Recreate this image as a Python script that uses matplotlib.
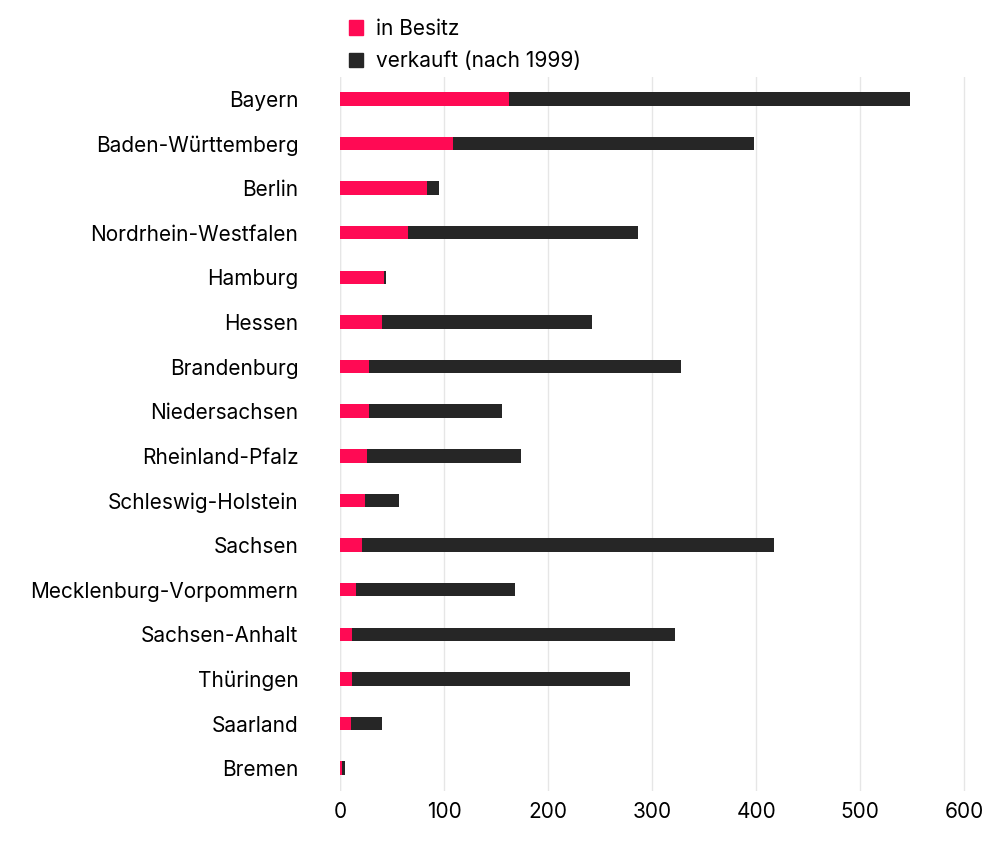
import matplotlib.pyplot as plt
from matplotlib.patches import Patch

# ── data ────────────────────────────────────────────────
LAENDER = ["Bayern", "Baden-Württemberg", "Berlin", "Nordrhein-Westfalen", "Hamburg",
           "Hessen", "Brandenburg", "Niedersachsen", "Rheinland-Pfalz", "Schleswig-Holstein",
           "Sachsen", "Mecklenburg-Vorpommern", "Sachsen-Anhalt", "Thüringen", "Saarland", "Bremen"]
IN_BESITZ = [162, 109, 84, 65, 42, 40, 28, 28, 26, 24, 21, 15, 12, 12, 11, 2]
GESAMT    = [548, 398, 95, 286, 44, 242, 328, 156, 174, 57, 417, 168, 322, 279, 40, 5]
VERKAUFT  = [g - b for g, b in zip(GESAMT, IN_BESITZ)]
XTICKS = [0, 100, 200, 300, 400, 500, 600]

PINK = "#ff0a54"
DARK = "#262626"

plt.rcParams["font.family"] = "Inter"

fig = plt.figure(figsize=(10, 8.5), dpi=100)
ax = fig.add_axes([0.34, 0.07, 0.645, 0.84])

y = range(len(LAENDER))
ax.barh(y, IN_BESITZ, height=0.3, color=PINK, zorder=3)
ax.barh(y, VERKAUFT, left=IN_BESITZ, height=0.3, color=DARK, zorder=3)

ax.set_yticks(list(y))
ax.set_yticklabels(LAENDER, fontsize=15)
ax.set_ylim(len(LAENDER) - 0.5, -0.5)
ax.set_xlim(0, 620)
ax.set_xticks(XTICKS)
ax.tick_params(axis="x", labelsize=15, length=0, pad=8)
ax.tick_params(axis="y", length=0, pad=30)
ax.grid(axis="x", color="#e6e6e6", lw=1, zorder=0)
for s in ax.spines.values():
    s.set_visible(False)
ax.axvline(0, color="#e6e6e6", lw=1, zorder=0)

handles = [Patch(color=PINK, label="in Besitz"), Patch(color=DARK, label="verkauft (nach 1999)")]
fig.legend(handles=handles, loc="upper left", bbox_to_anchor=(0.33, 1.0), frameon=False,
           fontsize=15, handlelength=0.7, handleheight=0.7, labelspacing=0.6, handletextpad=0.6)

fig.savefig("out.png", dpi=100)
